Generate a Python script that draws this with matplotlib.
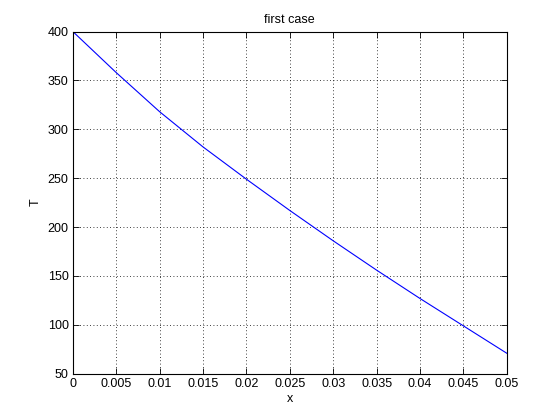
import matplotlib
matplotlib.use('Agg')
import matplotlib.pyplot as plt
import numpy as np

x_vals = [0, 0.005, 0.01, 0.015, 0.02, 0.025, 0.03, 0.035, 0.04, 0.045, 0.05]
T_vals = [400, 358, 318, 282, 249, 217, 186, 156, 127, 99, 71]
x_ticks = [0, 0.005, 0.01, 0.015, 0.02, 0.025, 0.03, 0.035, 0.04, 0.045, 0.05]
x_tick_labels = ['0', '0.005', '0.01', '0.015', '0.02', '0.025', '0.03', '0.035', '0.04', '0.045', '0.05']
y_ticks = [50, 100, 150, 200, 250, 300, 350, 400]

plt.rcParams['font.family'] = ['Liberation Sans', 'DejaVu Sans']

fig = plt.figure(figsize=(5.6, 4.2), dpi=100)
ax = fig.add_axes([0.13, 0.11, 0.775, 0.815])
ax.plot(x_vals, T_vals, color='#0000ff', linewidth=0.8)
ax.set_xlim(0, 0.05)
ax.set_ylim(50, 400)
ax.set_xticks(x_ticks)
ax.set_xticklabels(x_tick_labels)
ax.set_yticks(y_ticks)
ax.tick_params(direction='in', top=True, right=True, labelsize=9, length=4, width=0.6, pad=3)
ax.grid(True, color='black', linestyle=(0, (1, 3)), linewidth=0.6)
for s in ax.spines.values():
    s.set_linewidth(0.8)
ax.set_xlabel('x', fontsize=9, labelpad=2)
ax.set_ylabel('T', fontsize=9)
ax.set_title('first case', fontsize=9)

fig.savefig('out.png', dpi=100)
